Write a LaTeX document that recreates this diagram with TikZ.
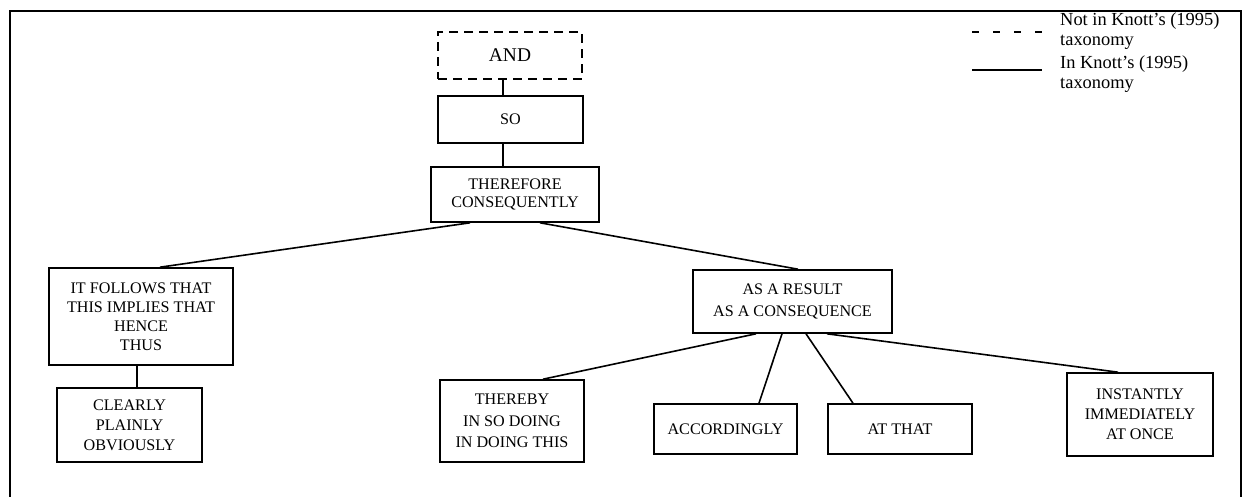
\documentclass[tikz,border=0pt]{standalone}
\usepackage{fontspec}
\setmainfont{Liberation Serif}
\begin{document}
\begin{tikzpicture}[x=1bp,y=-1bp,
  box/.style={draw, line width=1.6bp, inner sep=0pt, align=center, font=\fontsize{16.2}{20}\selectfont},
  dbox/.style={box, dash pattern=on 9bp off 6bp},
  link/.style={line width=1.6bp},
  legtext/.style={anchor=north west, inner sep=0pt, align=left, font=\fontsize{18.5}{19.5}\selectfont},
]
\useasboundingbox (0,0) rectangle (1243,497);
% frame (open at the bottom)
\coordinate (fbl) at (10,497);
\coordinate (ftl) at (10,11);
\coordinate (ftr) at (1241,11);
\coordinate (fbr) at (1241,497);
\draw[line width=1.1bp] (fbl) -- (ftl) -- (ftr) -- (fbr);

% nodes
\node[dbox, minimum width=144bp, minimum height=47bp, font=\fontsize{19.5}{23}\selectfont] (and) at (510,55.5) {AND};
\node[box, minimum width=145bp, minimum height=47bp] (so) at (510.5,119.5) {SO};
\node[box, minimum width=168bp, minimum height=55bp, font=\fontsize{16.2}{19}\selectfont] (therefore) at (515,194.5) {THEREFORE\\CONSEQUENTLY};
\node[box, minimum width=184bp, minimum height=97bp, font=\fontsize{16.2}{19}\selectfont] (follows) at (141,316.5) {IT FOLLOWS THAT\\THIS IMPLIES THAT\\HENCE\\THUS};
\node[box, minimum width=145bp, minimum height=74bp] (clearly) at (129.5,425) {CLEARLY\\PLAINLY\\OBVIOUSLY};
\node[box, minimum width=199bp, minimum height=63bp, font=\fontsize{16.2}{23}\selectfont] (result) at (792.5,301.5) {AS A RESULT\\AS A CONSEQUENCE};
\node[box, minimum width=144bp, minimum height=82bp, font=\fontsize{16.2}{21.5}\selectfont] (thereby) at (512,421) {THEREBY\\IN SO DOING\\IN DOING THIS};
\node[box, minimum width=143bp, minimum height=50bp] (accord) at (725.5,429) {ACCORDINGLY};
\node[box, minimum width=144bp, minimum height=50bp] (atthat) at (900,429) {AT THAT};
\node[box, minimum width=146bp, minimum height=83bp] (instantly) at (1140,414.5) {INSTANTLY\\IMMEDIATELY\\AT ONCE};

% connectors
\draw[link] ([xshift=-7bp]and.south) -- ([xshift=-7.5bp]so.north);
\draw[link] ([xshift=-7.5bp]so.south) -- ([xshift=-12bp]therefore.north);
\draw[link] ([xshift=-45bp]therefore.south) -- ([xshift=19bp]follows.north);
\draw[link] ([xshift=25bp]therefore.south) -- ([xshift=5.5bp]result.north);
\draw[link] ([xshift=-4bp]follows.south) -- ([xshift=7.5bp]clearly.north);
\draw[link] ([xshift=-36.5bp]result.south) -- ([xshift=31bp]thereby.north);
\draw[link] ([xshift=-10.5bp]result.south) -- ([xshift=33.5bp]accord.north);
\draw[link] ([xshift=13.5bp]result.south) -- ([xshift=-47bp]atthat.north);
\draw[link] ([xshift=34.5bp]result.south) -- ([xshift=-22bp]instantly.north);

% legend
\coordinate (ld1) at (972,32);
\coordinate (ld2) at (1042,32);
\coordinate (ls1) at (972,70);
\coordinate (ls2) at (1042,70);
\draw[link, dash pattern=on 7bp off 14bp] (ld1) -- (ld2);
\draw[link] (ls1) -- (ls2);
\node[legtext] (leg1) at (1060,13) {Not in Knott's (1995)\\taxonomy};
\node[legtext] (leg2) at (1060,56) {In Knott's (1995)\\taxonomy};
\end{tikzpicture}
\end{document}
